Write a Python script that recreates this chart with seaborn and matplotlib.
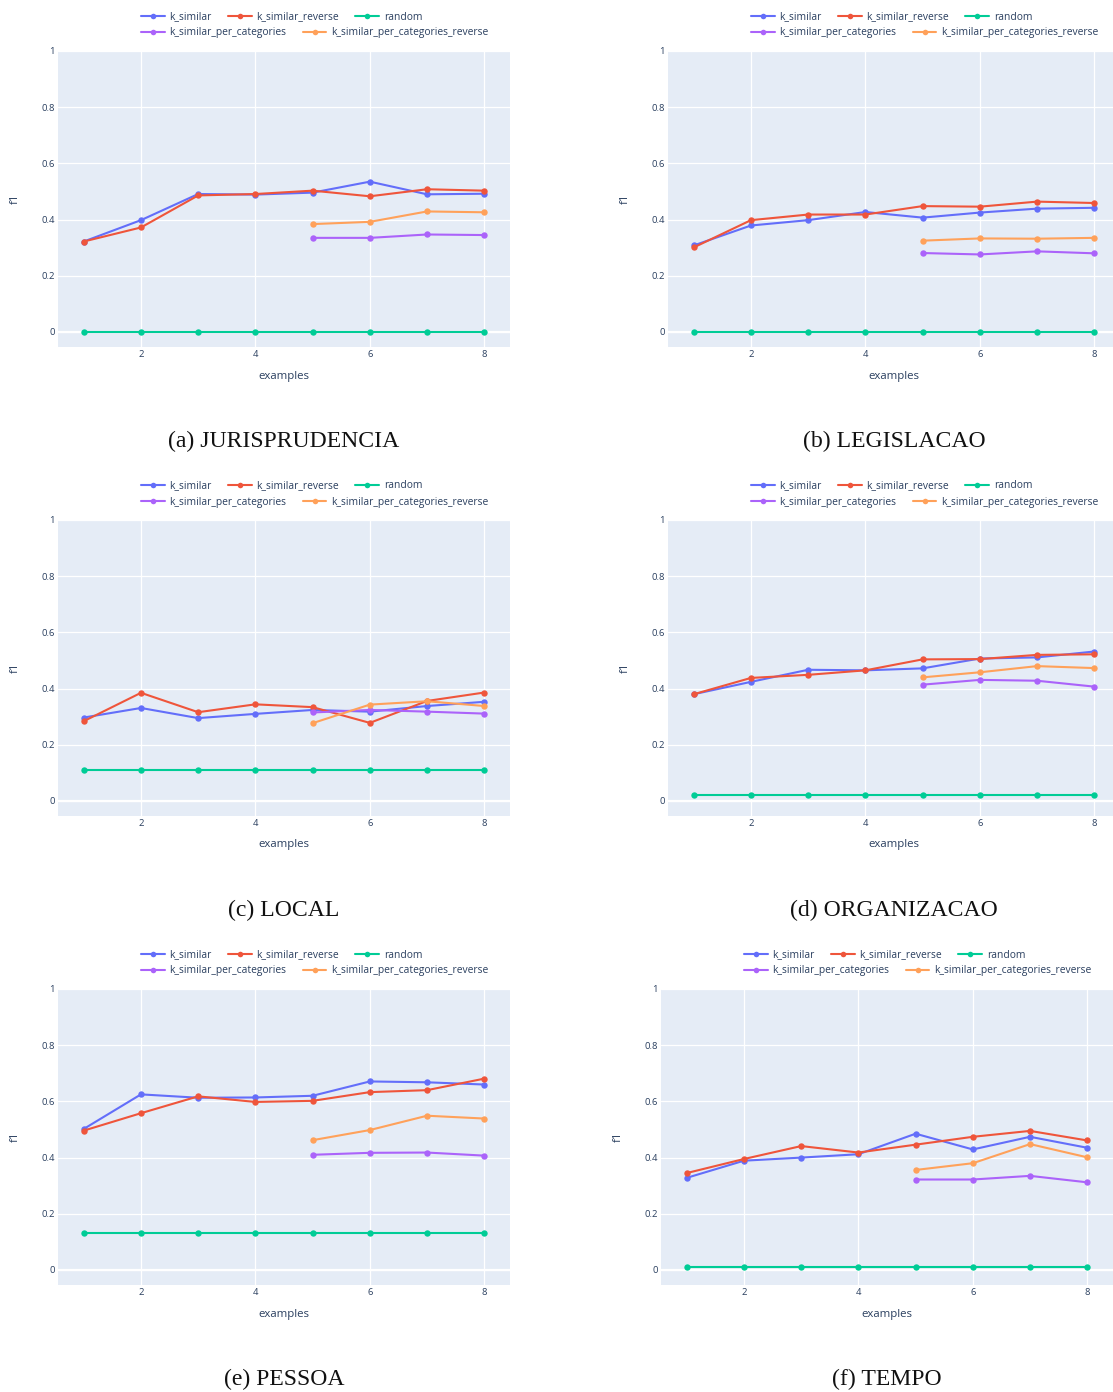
import pandas as pd
import seaborn as sns
import matplotlib.pyplot as plt
from matplotlib.lines import Line2D

# ---- data -------------------------------------------------------------
examples = [1, 2, 3, 4, 5, 6, 7, 8]
examples_per_categories = [5, 6, 7, 8]

methods = ["k_similar", "k_similar_reverse", "random",
           "k_similar_per_categories", "k_similar_per_categories_reverse"]
colors = ["#636EFA", "#EF553B", "#00CC96", "#AB63FA", "#FFA15A"]

y_ticks = [0, 0.2, 0.4, 0.6, 0.8, 1]
y_tick_labels = ["0", "0.2", "0.4", "0.6", "0.8", "1"]
x_ticks = [2, 4, 6, 8]

# JURISPRUDENCIA
jur_k_similar = [0.322, 0.398, 0.491, 0.489, 0.496, 0.535, 0.490, 0.492]
jur_k_similar_reverse = [0.322, 0.372, 0.486, 0.491, 0.503, 0.483, 0.508, 0.503]
jur_random = [0.0, 0.0, 0.0, 0.0, 0.0, 0.0, 0.0, 0.0]
jur_per_categories = [0.335, 0.335, 0.347, 0.345]
jur_per_categories_reverse = [0.384, 0.392, 0.429, 0.426]

# LEGISLACAO
leg_k_similar = [0.308, 0.379, 0.398, 0.427, 0.407, 0.425, 0.439, 0.442]
leg_k_similar_reverse = [0.301, 0.398, 0.418, 0.418, 0.448, 0.446, 0.464, 0.459]
leg_random = [0.0, 0.0, 0.0, 0.0, 0.0, 0.0, 0.0, 0.0]
leg_per_categories = [0.281, 0.276, 0.287, 0.280]
leg_per_categories_reverse = [0.325, 0.333, 0.332, 0.335]

# LOCAL
loc_k_similar = [0.297, 0.331, 0.295, 0.310, 0.324, 0.318, 0.338, 0.353]
loc_k_similar_reverse = [0.284, 0.385, 0.316, 0.344, 0.334, 0.278, 0.356, 0.386]
loc_random = [0.112, 0.112, 0.112, 0.112, 0.112, 0.112, 0.112, 0.112]
loc_per_categories = [0.315, 0.324, 0.318, 0.311]
loc_per_categories_reverse = [0.277, 0.343, 0.355, 0.338]

# ORGANIZACAO
org_k_similar = [0.380, 0.424, 0.467, 0.465, 0.472, 0.507, 0.511, 0.532]
org_k_similar_reverse = [0.380, 0.438, 0.449, 0.465, 0.504, 0.505, 0.520, 0.522]
org_random = [0.021, 0.021, 0.021, 0.021, 0.021, 0.021, 0.021, 0.021]
org_per_categories = [0.414, 0.431, 0.428, 0.407]
org_per_categories_reverse = [0.440, 0.458, 0.480, 0.473]

# PESSOA
pes_k_similar = [0.502, 0.625, 0.613, 0.614, 0.620, 0.671, 0.668, 0.660]
pes_k_similar_reverse = [0.496, 0.558, 0.618, 0.598, 0.602, 0.633, 0.640, 0.681]
pes_random = [0.133, 0.133, 0.133, 0.133, 0.133, 0.133, 0.133, 0.133]
pes_per_categories = [0.410, 0.417, 0.418, 0.407]
pes_per_categories_reverse = [0.462, 0.498, 0.549, 0.539]

# TEMPO
tem_k_similar = [0.328, 0.389, 0.400, 0.412, 0.485, 0.429, 0.474, 0.435]
tem_k_similar_reverse = [0.345, 0.395, 0.441, 0.418, 0.446, 0.474, 0.495, 0.461]
tem_random = [0.011, 0.011, 0.011, 0.011, 0.011, 0.011, 0.011, 0.011]
tem_per_categories = [0.322, 0.322, 0.335, 0.312]
tem_per_categories_reverse = [0.356, 0.380, 0.448, 0.401]

panels = [
    ("(a) JURISPRUDENCIA", jur_k_similar, jur_k_similar_reverse, jur_random,
     jur_per_categories, jur_per_categories_reverse),
    ("(b) LEGISLACAO", leg_k_similar, leg_k_similar_reverse, leg_random,
     leg_per_categories, leg_per_categories_reverse),
    ("(c) LOCAL", loc_k_similar, loc_k_similar_reverse, loc_random,
     loc_per_categories, loc_per_categories_reverse),
    ("(d) ORGANIZACAO", org_k_similar, org_k_similar_reverse, org_random,
     org_per_categories, org_per_categories_reverse),
    ("(e) PESSOA", pes_k_similar, pes_k_similar_reverse, pes_random,
     pes_per_categories, pes_per_categories_reverse),
    ("(f) TEMPO", tem_k_similar, tem_k_similar_reverse, tem_random,
     tem_per_categories, tem_per_categories_reverse),
]


def long_frame(ks, ksr, rnd, kpc, kpcr):
    rows = []
    for name, xs, ys in [(methods[0], examples, ks),
                         (methods[1], examples, ksr),
                         (methods[2], examples, rnd),
                         (methods[3], examples_per_categories, kpc),
                         (methods[4], examples_per_categories, kpcr)]:
        for x, y in zip(xs, ys):
            rows.append({"examples": x, "f1": y, "method": name})
    return pd.DataFrame(rows)


# ---- style ------------------------------------------------------------
sns.set_theme(style="white")
plt.rcParams["font.family"] = ["Open Sans", "DejaVu Sans"]

W, H = 1113, 1392
BG = "#E5ECF6"
TXT = "#2a3f5f"
tick_fs = 6.8
title_fs = 8.2
legend_fs = 7.4

fig = plt.figure(figsize=(W / 100, H / 100), dpi=100)

# pixel geometry of each plotting area: (left, top)
ax_w, ax_h = 452, 296
origins = [(58, 51), (668, 51), (58, 520), (668, 520), (58, 989), (661, 989)]

for (title, ks, ksr, rnd, kpc, kpcr), (left, top) in zip(panels, origins):
    ax = fig.add_axes([left / W, 1 - (top + ax_h) / H, ax_w / W, ax_h / H])
    ax.set_facecolor(BG)
    ax.set_axisbelow(True)
    ax.grid(True, color="white", linewidth=0.9)
    ax.axhline(0, color="white", linewidth=1.6, zorder=0.6)

    df = long_frame(ks, ksr, rnd, kpc, kpcr)
    sns.lineplot(data=df, x="examples", y="f1", hue="method",
                 hue_order=methods, palette=colors, marker="o",
                 markersize=4.6, markeredgewidth=0, linewidth=1.5,
                 errorbar=None, legend=False, ax=ax)

    ax.set_xlim(0.55, 8.45)
    ax.set_ylim(-0.0534, 1.0)
    ax.set_xticks(x_ticks)
    ax.set_xticklabels([str(t) for t in x_ticks])
    ax.set_yticks(y_ticks)
    ax.set_yticklabels(y_tick_labels)
    ax.tick_params(length=0, pad=2.4, labelsize=tick_fs, labelcolor=TXT)
    for s in ax.spines.values():
        s.set_visible(False)

    ax.set_xlabel("examples", fontsize=title_fs, color=TXT, va="center")
    ax.xaxis.set_label_coords(0.5, -29 / ax_h)
    ax.set_ylabel("f1", fontsize=title_fs, color=TXT, va="center")
    ax.yaxis.set_label_coords(-43 / ax_w, 0.5)

    # two-row horizontal legend above the plotting area
    handles = [Line2D([0], [0], color=c, lw=1.5, marker="o", markersize=4,
                      markeredgewidth=0) for c in colors]
    leg_kw = dict(loc="center left", frameon=False, borderpad=0,
                  handlelength=2.3, handletextpad=0.45, columnspacing=1.6,
                  prop={"family": "Open Sans", "size": legend_fs},
                  labelcolor=TXT, borderaxespad=0)
    lx = (left + 83) / W
    fig.legend(handles=handles[:3], labels=methods[:3], ncol=3,
               bbox_to_anchor=(lx, 1 - (top - 34) / H), **leg_kw)
    fig.legend(handles=handles[3:], labels=methods[3:], ncol=2,
               bbox_to_anchor=(lx, 1 - (top - 18) / H), **leg_kw)

    # sub-figure caption
    fig.text((left + ax_w / 2) / W, 1 - (top + ax_h + 94) / H, title,
             ha="center", va="center", fontsize=17.1, color="#111111",
             family=["Liberation Serif", "DejaVu Serif"])

fig.savefig("out.png", dpi=100, facecolor="white")
